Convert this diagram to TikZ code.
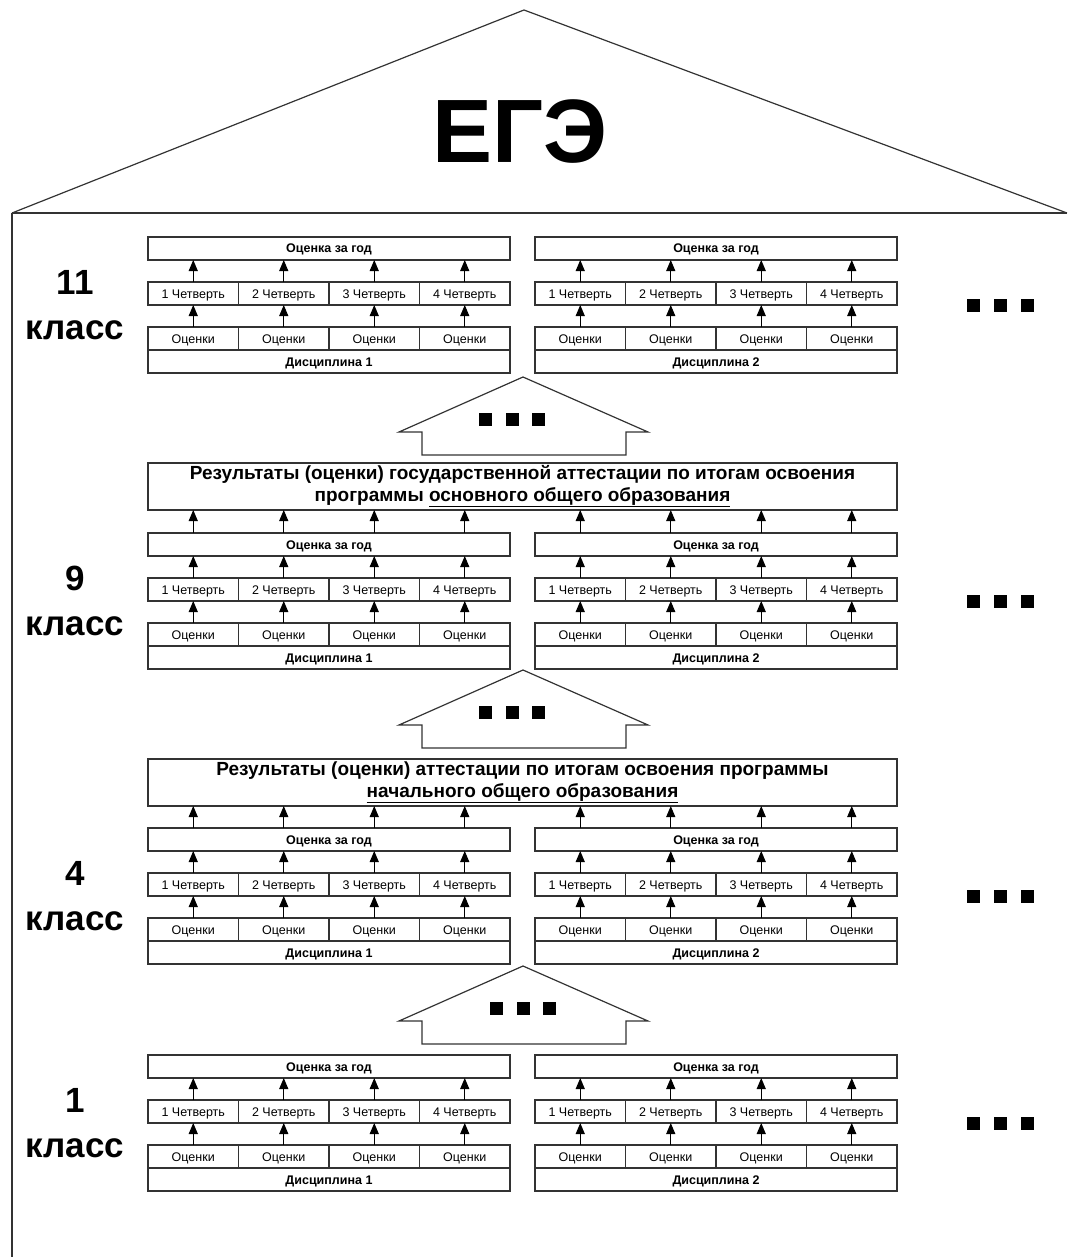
\documentclass[tikz,border=0pt]{standalone}
\usepackage{fontspec}
\setmainfont{Liberation Sans}
\usetikzlibrary{arrows.meta}
\definecolor{linegray}{HTML}{333333}
\tikzset{
  cell/.style={
    rectangle,
    anchor=north west,
    inner sep=0pt,
    outer sep=0pt,
    minimum height=23pt,
    text height=9pt,
    text depth=0pt,
    line width=1.1pt,
    draw=linegray,
    font=\fontsize{12.5}{14}\selectfont,
  },
  year box/.style={
    cell,
    minimum width=362pt,
    font=\bfseries\fontsize{12.5}{14}\selectfont,
  },
  subject box/.style={
    year box,
  },
  quarter box/.style={
    cell,
    minimum width=90.5pt,
  },
  marks box/.style={
    cell,
    minimum width=90.5pt,
  },
  results box/.style={
    cell,
    text height=,
    text depth=,
    minimum width=749pt,
    minimum height=47pt,
    align=center,
    font=\bfseries\fontsize{19}{21.5}\selectfont,
  },
  upward/.style={
    -{Triangle[length=11pt,width=9pt]},
    line width=1.1pt,
    draw=black,
  },
  grade label/.style={
    font=\bfseries\fontsize{35}{36}\selectfont,
  },
  dot/.style={
    rectangle,
    fill=black,
    inner sep=0pt,
    minimum size=13pt,
  },
  step house/.style={
    draw=linegray,
    line width=1.2pt,
  },
}

\begin{document}
\begin{tikzpicture}[x=1pt,y=-1pt]
  \useasboundingbox (0,0) rectangle (1068,1257);

  % The big house: roof with the exam, wall on the left.
  \draw[step house] (12,213) -- (524,10) -- (1067,213);
  \draw[step house] (12,213) -- (1067,213);
  \draw[step house] (12,213) -- (12,1257);
  \node[font=\bfseries\fontsize{90}{90}\selectfont] (exam) at (520,132) {ЕГЭ};

  % One storey per grade: two subjects, quarters, marks.
  \foreach \cls/\ytop in {11/237, 9/533, 4/828, 1/1055}{
    \foreach \dsc/\xleft in {1/148, 2/535}{
      \node[year box] (year-\cls-\dsc) at (\xleft,\ytop) {Оценка за год};
      \foreach \k in {1,...,4}{
        \node[quarter box] (quarter-\cls-\dsc-\k)
          at ({\xleft+90.5*(\k-1)},{\ytop+45}) {\k~Четверть};
        \node[marks box] (marks-\cls-\dsc-\k)
          at ({\xleft+90.5*(\k-1)},{\ytop+90}) {Оценки};
        \draw[upward] (quarter-\cls-\dsc-\k.north)
          -- (year-\cls-\dsc.south -| quarter-\cls-\dsc-\k.north);
        \draw[upward] (marks-\cls-\dsc-\k.north)
          -- (quarter-\cls-\dsc-\k.south);
      }
      \node[subject box] (subject-\cls-\dsc) at (\xleft,{\ytop+113}) {Дисциплина \dsc};
    }
    \node[grade label] (num-\cls) at (75,{\ytop+45}) {\cls};
    \node[grade label] (word-\cls) at (75,{\ytop+93}) {класс};
    \foreach \dx [count=\i] in {973,1000,1027}{
      \node[dot] (more-\cls-\i) at (\dx,{\ytop+68}) {};
    }
  }

  % Final attestation results above grades 9 and 4.
  \node[results box] (results-9) at (148,463)
    {Результаты (оценки) государственной аттестации по итогам освоения\\
     программы \underline{основного общего образования}};
  \node[results box] (results-4) at (148,759)
    {Результаты (оценки) аттестации по итогам освоения программы\\
     \underline{начального общего образования}};
  \foreach \cls in {9,4}{
    \foreach \dsc in {1,2}{
      \foreach \k in {1,...,4}{
        \draw[upward] (year-\cls-\dsc.north -| quarter-\cls-\dsc-\k.north)
          -- (results-\cls.south -| quarter-\cls-\dsc-\k.north);
      }
    }
  }

  % Small houses between the storeys.
  \foreach \htop/\dx in {377/0, 670/0, 966/11}{
    \draw[step house] (399,{\htop+55}) -- (523,\htop) -- (648,{\htop+55})
      -- (626,{\htop+55}) -- (626,{\htop+78}) -- (422,{\htop+78})
      -- (422,{\htop+55}) -- cycle;
    \foreach \sx [count=\i] in {485.5,512,538.5}{
      \node[dot] (gap-\htop-\i) at ({\sx+\dx},{\htop+42}) {};
    }
  }
\end{tikzpicture}
\end{document}
